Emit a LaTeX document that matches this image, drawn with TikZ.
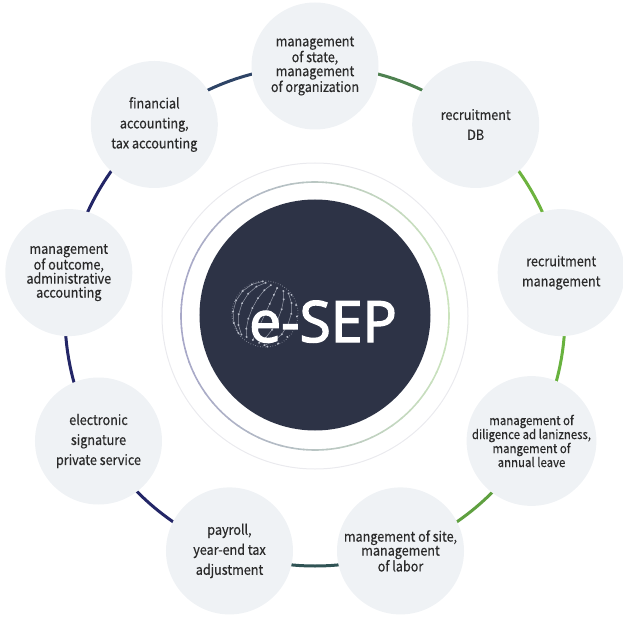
\documentclass[tikz,border=0pt]{standalone}
\usepackage{fontspec}
\newfontfamily\labelfont[FakeStretch=0.9,FakeBold=0.4]{Noto Sans CJK KR}
\newfontfamily\logofont[FakeBold=2.4]{Open Sans}
\usetikzlibrary{positioning}
\pgfdeclarelayer{background}
\pgfsetlayers{background,main}

\definecolor{bubble}{HTML}{EFF2F5}
\definecolor{ink}{HTML}{2A2A2A}
\definecolor{core}{HTML}{2D3346}
\definecolor{slate}{HTML}{2E4466}
\definecolor{greenA}{HTML}{4E8150}
\definecolor{greenB}{HTML}{6DB33F}
\definecolor{greenC}{HTML}{68B23E}
\definecolor{greenD}{HTML}{5FA040}
\definecolor{teal}{HTML}{2F5354}
\definecolor{navy}{HTML}{232667}
\definecolor{ringlav}{HTML}{A8A8C8}
\definecolor{ringgreen}{HTML}{CBE4BD}
\definecolor{faintring}{HTML}{EAEAEE}
\definecolor{globedot}{HTML}{B9BECA}

\tikzset{
  topic/.style={circle,fill=bubble,minimum size=127pt,inner sep=0pt,align=center,
    text=ink,font=\labelfont\fontsize{14}{20}\selectfont},
  tight/.style={font=\labelfont\fontsize{14}{14}\selectfont},
  smalltxt/.style={font=\labelfont\fontsize{12.7}{14}\selectfont},
  link/.style={line width=3pt},
  mesh/.style={globedot,line width=0.5pt,opacity=0.75},
}

\begin{document}
\begin{tikzpicture}[x=1pt,y=1pt]
  \useasboundingbox (-315,-305) rectangle (308,316);

  % rings round the core
  \draw[faintring,line width=1pt] (0,0) circle[radius=153];
  \foreach \t in {0,5,...,355}{
    \pgfmathtruncatemacro\mix{50+50*cos(\t)}
    \draw[ringgreen!\mix!ringlav,line width=1.6pt] (\t:134) arc[start angle=\t,delta angle=5.5,radius=134];
  }
  \node[circle,fill=core,minimum size=231pt,inner sep=0pt] (core) at (0,1) {};

  % globe behind the logo
  \begin{scope}[shift={(-50,2)},rotate=-25]
    \draw[mesh,dotted,line width=0.9pt] (0,0) circle[radius=33];
    \foreach \la [evaluate=\la as \lb using \la+20] in {-60,-40,...,40}
      \foreach \lo [evaluate=\lo as \lp using \lo+25] in {-75,-50,...,50}
        \draw[mesh] ({33*cos(\la)*sin(\lo)},{33*sin(\la)}) -- ({33*cos(\la)*sin(\lp)},{33*sin(\la)})
          -- ({33*cos(\lb)*sin(\lp)},{33*sin(\lb)}) -- ({33*cos(\la)*sin(\lo)},{33*sin(\la)});
    \foreach \la in {-60,-40,...,60}
      \foreach \lo in {-75,-50,...,75}
        \fill[globedot] ({33*cos(\la)*sin(\lo)},{33*sin(\la)}) circle[radius=1.1pt];
  \end{scope}
  \node[text=white,font=\logofont\fontsize{57}{57}\selectfont,anchor=base] (logo) at (8,-26) {e-SEP};

  % topics
  \node[topic,tight] (state) at (90:250) {management\\of state,\\management\\of organization};
  \node[topic] (recdb) at (50:250) {recruitment\\DB};
  \node[topic] (recmgmt) at (10:250) {recruitment\\management};
  \node[topic,smalltxt] (diligence) at (-30:250) {management of\\diligence ad lanizness,\\mangement of\\annual leave};
  \node[topic,tight] (site) at (-70:250) {mangement of site,\\management\\of labor};
  \node[topic] (payroll) at (-110:250) {payroll,\\year-end tax\\adjustment};
  \node[topic] (signature) at (-150:250) {electronic\\signature\\private service};
  \node[topic,tight] (outcome) at (170:250) {management\\of outcome,\\administrative\\accounting};
  \node[topic] (finance) at (130:250) {financial\\accounting,\\tax accounting};

  \begin{pgfonlayer}{background}
    \foreach \from/\a/\col in {finance/130/slate,state/90/greenA,recdb/50/greenB,recmgmt/10/greenC,
        diligence/-30/greenD,site/-70/teal,payroll/-110/navy,signature/-150/navy,outcome/170/navy}
      \draw[link,\col] (\from.center) arc[start angle=\a,delta angle=-40,radius=250];
  \end{pgfonlayer}
\end{tikzpicture}
\end{document}
